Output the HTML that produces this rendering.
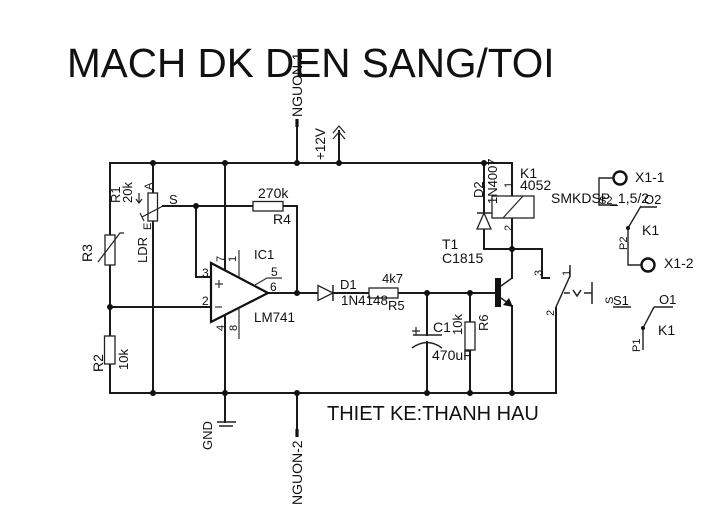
<!DOCTYPE html>
<html>
<head>
<meta charset="utf-8">
<style>
  html,body{margin:0;padding:0;background:#fff;}
  svg{display:block;}
  text{font-family:"Liberation Sans",Arial,sans-serif;fill:#111;}
</style>
</head>
<body>
<svg width="722" height="517" viewBox="0 0 722 517" xmlns="http://www.w3.org/2000/svg">
  <rect width="722" height="517" fill="#fff"/>

  <!-- Title -->
  <text x="67" y="77" font-size="40.5">MACH DK DEN SANG/TOI</text>

  <g stroke="#1a1a1a" stroke-width="2" fill="none" stroke-linecap="square">
    <!-- top rail -->
    <path d="M110,163 H512 V196"/>
    <!-- NGUON-1 -->
    <path d="M297,122 V163"/>
    <!-- +12V -->
    <path d="M339,131 V163"/>
    <!-- bottom rail -->
    <path d="M110,393 H556 V308"/>
    <!-- left column R3/R2 -->
    <path d="M110,163 V235 M110,265 V336 M110,364 V393"/>
    <path d="M110,307 H211"/>
    <!-- pot column -->
    <path d="M153,163 V193 M153,221 V393"/>
    <!-- opamp supply pins -->
    <path d="M225,163 V270 M225,315 V393"/>
    <!-- GND -->
    <path d="M225,393 V422"/>
    <!-- NGUON-2 -->
    <path d="M297,393 V432"/>
    <!-- S line / R4 -->
    <path d="M163,206 H253 M283,206 H297 V293"/>
    <!-- pin 3 -->
    <path d="M196,206 V277 H211"/>
    <!-- output line -->
    <path d="M268,293 H318 M333,293 H369 M398,293 H495"/>
    <!-- C1 -->
    <path d="M427,293 V335 M427,342 V393"/>
    <!-- R6 -->
    <path d="M470,293 V322 M470,350 V393"/>
    <!-- D2 column -->
    <path d="M484,163 V249 H512"/>
    <!-- relay lower -->
    <path d="M512,218 V278"/>
    <!-- emitter down -->
    <path d="M512,306 V393"/>
    <!-- pin 3 relay switch -->
    <path d="M512,249 H542 V278 H549"/>
  </g>

  <!-- thick terminal segments -->
  <g stroke="#111" stroke-width="3.2">
    <line x1="297" y1="119" x2="297" y2="127"/>
    <line x1="297" y1="429" x2="297" y2="437"/>
  </g>

  <!-- +12V chevrons -->
  <g stroke="#222" stroke-width="1.2" fill="none">
    <path d="M333,133 L339,126 L345,133"/>
    <path d="M333,139 L339,132 L345,139"/>
  </g>

  <!-- GND symbol -->
  <g stroke="#222" stroke-width="1.5">
    <line x1="217" y1="422" x2="236" y2="422"/>
    <line x1="219" y1="426" x2="233" y2="426"/>
  </g>

  <!-- resistors -->
  <g stroke="#222" stroke-width="1.3" fill="#fff">
    <rect x="105" y="235" width="10" height="30"/>
    <rect x="104.5" y="336" width="10.5" height="28"/>
    <rect x="148" y="193" width="9.5" height="28"/>
    <rect x="253" y="201.5" width="30" height="9.5"/>
    <rect x="369" y="288" width="29" height="10"/>
    <rect x="465" y="322" width="10" height="28"/>
    <rect x="492" y="196" width="42" height="22"/>
  </g>
  <g stroke="#222" stroke-width="1.2" fill="none">
    <!-- R3 thermistor diagonal -->
    <path d="M98,262 L120,233 H124"/>
    <!-- pot wiper -->
    <path d="M142,217 L163,206"/>
    <path d="M140,213 L144,221"/>
    <!-- relay diagonal -->
    <path d="M503,218 L523,196"/>
    <!-- pot arrow -->
    <path d="M139,193 V203 M136,199 L139,203 L142,199"/>
  </g>

  <!-- op amp -->
  <g stroke="#111" stroke-width="2.2" fill="#fff">
    <path d="M211,263 L268,293 L211,322 Z"/>
  </g>
  <g stroke="#333" stroke-width="1.2" fill="none">
    <path d="M239,250 V277"/>
    <path d="M239,308 V339"/>
    <path d="M255,285 L267,278 H282"/>
    <path d="M215,284 H223 M219,280 V288"/>
    <path d="M215,307 H222"/>
  </g>

  <!-- D1 -->
  <g stroke="#222" stroke-width="1.3" fill="#fff">
    <path d="M318,285.5 L333,293 L318,300.5 Z"/>
  </g>
  <line x1="333" y1="285" x2="333" y2="301" stroke="#222" stroke-width="1.5"/>

  <!-- D2 -->
  <g stroke="#222" stroke-width="1.3" fill="#fff">
    <path d="M477,229 L491,229 L484,213 Z"/>
  </g>
  <line x1="477" y1="213" x2="492" y2="213" stroke="#222" stroke-width="1.5"/>

  <!-- C1 -->
  <g stroke="#222" stroke-width="1.5" fill="none">
    <line x1="413" y1="335" x2="442" y2="335"/>
    <path d="M412,348 Q427,337 442,348"/>
    <path d="M412,331 H420 M416,327 V335" stroke-width="1.2"/>
  </g>

  <!-- Transistor -->
  <rect x="495" y="278" width="6" height="29" fill="#111"/>
  <g stroke="#222" stroke-width="1.5" fill="none">
    <path d="M501,286 L512,278"/>
    <path d="M501,298 L512,306"/>
  </g>
  <path d="M513,307 L503,305 L509,298 Z" fill="#111"/>

  <!-- relay switch contacts -->
  <g stroke="#222" stroke-width="1.5" fill="none">
    <path d="M570,265 V277"/>
    <path d="M556,307 L570,276"/>
    <path d="M564,293 H570 M573,290 L577,296 L581,290 M584,293 H592" stroke-dasharray="none"/>
    <path d="M592,282 V304"/>
  </g>

  <!-- right side connector -->
  <g stroke="#111" stroke-width="2.4" fill="none">
    <circle cx="620" cy="178" r="6.5"/>
    <circle cx="648" cy="265" r="6.5"/>
  </g>
  <g stroke="#222" stroke-width="1.4" fill="none">
    <path d="M613,178 H599 V205 H617"/>
    <path d="M628,228 L641,206"/>
    <path d="M640,207 H657"/>
    <path d="M628,228 V265 H641"/>
    <path d="M613,307 H631"/>
    <path d="M654,307 H673"/>
    <path d="M654,307 L643,328 V350"/>
  </g>

  <!-- dots -->
  <g fill="#111">
    <circle cx="153" cy="163" r="3"/>
    <circle cx="225" cy="163" r="3"/>
    <circle cx="297" cy="163" r="3"/>
    <circle cx="339" cy="163" r="3"/>
    <circle cx="484" cy="163" r="3"/>
    <circle cx="196" cy="206" r="3"/>
    <circle cx="110" cy="307" r="3"/>
    <circle cx="297" cy="293" r="3"/>
    <circle cx="427" cy="293" r="3"/>
    <circle cx="470" cy="293" r="3"/>
    <circle cx="512" cy="249" r="3"/>
    <circle cx="153" cy="393" r="3"/>
    <circle cx="225" cy="393" r="3"/>
    <circle cx="297" cy="393" r="3"/>
    <circle cx="427" cy="393" r="3"/>
    <circle cx="470" cy="393" r="3"/>
    <circle cx="512" cy="393" r="3"/>
    <circle cx="628" cy="228" r="2"/>
    <circle cx="643" cy="328" r="2"/>
  </g>

  <!-- horizontal labels -->
  <g font-size="14">
    <text x="258" y="198">270k</text>
    <text x="273" y="224">R4</text>
    <text x="169" y="204" font-size="13">S</text>
    <text x="254" y="259" font-size="13">IC1</text>
    <text x="254" y="322" font-size="13.4">LM741</text>
    <text x="340" y="289" font-size="13">D1</text>
    <text x="341" y="305" font-size="13.4">1N4148</text>
    <text x="382" y="283" font-size="13">4k7</text>
    <text x="388" y="310" font-size="13">R5</text>
    <text x="433" y="332">C1</text>
    <text x="432" y="360">470uF</text>
    <text x="442" y="249">T1</text>
    <text x="442" y="263">C1815</text>
    <text x="520" y="178">K1</text>
    <text x="520" y="190">4052</text>
    <text x="599" y="204" font-size="11">S2</text>
    <text x="551" y="203">SMKDSP_1,5/2</text>
    <text x="644" y="204" font-size="13">O2</text>
    <text x="635" y="182">X1-1</text>
    <text x="642" y="235">K1</text>
    <text x="664" y="268">X1-2</text>
    <text x="613" y="305" font-size="13">S1</text>
    <text x="659" y="304" font-size="13">O1</text>
    <text x="658" y="335">K1</text>
    <text x="327" y="420" font-size="20">THIET KE:THANH HAU</text>
  </g>
  <!-- pin numbers -->
  <g font-size="12">
    <text x="202" y="277">3</text>
    <text x="202" y="305">2</text>
    <text x="271" y="276">5</text>
    <text x="270" y="291">6</text>
  </g>

  <!-- rotated labels (reading bottom to top) -->
  <g font-size="14">
    <text transform="translate(302,117) rotate(-90)">NGUON-1</text>
    <text transform="translate(302,505) rotate(-90)">NGUON-2</text>
    <text transform="translate(325,160) rotate(-90)" font-size="13.5">+12V</text>
    <text transform="translate(212,450) rotate(-90)" font-size="13">GND</text>
    <text transform="translate(120,203) rotate(-90)" font-size="13">R1</text>
    <text transform="translate(132,203) rotate(-90)" font-size="13">20k</text>
    <text transform="translate(147,263) rotate(-90)" font-size="13">LDR</text>
    <text transform="translate(92,262) rotate(-90)">R3</text>
    <text transform="translate(103,372) rotate(-90)">R2</text>
    <text transform="translate(128,370) rotate(-90)" font-size="13">10k</text>
    <text transform="translate(462,335) rotate(-90)" font-size="13">10k</text>
    <text transform="translate(488,331) rotate(-90)" font-size="13">R6</text>
    <text transform="translate(483,198) rotate(-90)" font-size="13">D2</text>
    <text transform="translate(497,204) rotate(-90)" font-size="13">1N4007</text>
    <text transform="translate(627,250) rotate(-90)" font-size="11">P2</text>
    <text transform="translate(640,352) rotate(-90)" font-size="11">P1</text>
  </g>
  <g font-size="11">
    <text transform="translate(152,190) rotate(-90)">A</text>
    <text transform="translate(151,230) rotate(-90)">E</text>
    <text transform="translate(224,262) rotate(-90)">7</text>
    <text transform="translate(236,262) rotate(-90)">1</text>
    <text transform="translate(224,331) rotate(-90)">4</text>
    <text transform="translate(237,331) rotate(-90)">8</text>
    <text transform="translate(512,188) rotate(-90)">1</text>
    <text transform="translate(512,231) rotate(-90)">2</text>
    <text transform="translate(542,276) rotate(-90)">3</text>
    <text transform="translate(570,276) rotate(-90)">1</text>
    <text transform="translate(554,316) rotate(-90)">2</text>
    <text transform="translate(613,304) rotate(-90)">S</text>
  </g>
</svg>
</body>
</html>
